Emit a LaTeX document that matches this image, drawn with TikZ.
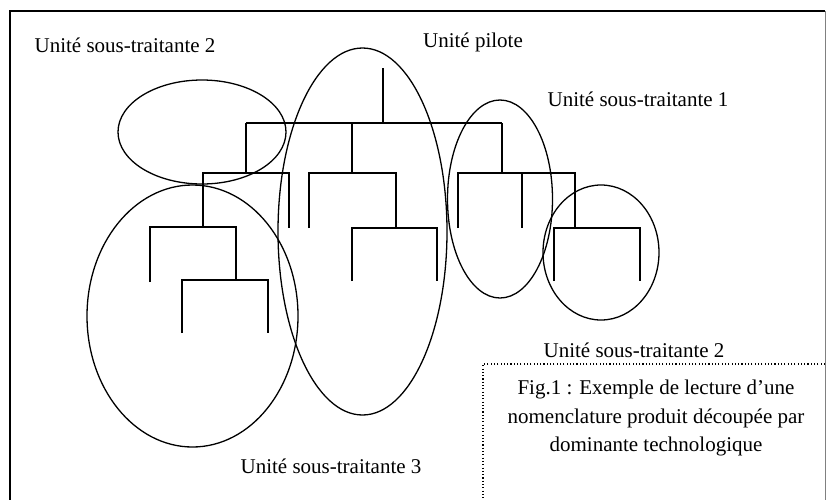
\documentclass[tikz,border=0pt]{standalone}
\usepackage{fontspec}
\setmainfont{Liberation Serif}
\usetikzlibrary{shapes.geometric}
\begin{document}
\begin{tikzpicture}[x=1pt,y=-1pt,
  tree/.style={line width=1.7pt,line cap=butt},
  unit/.style={ellipse,draw,line width=1.3pt,inner sep=0pt},
  lbl/.style={anchor=base,inner sep=0pt,font=\fontsize{21}{25}\selectfont},
  captext/.style={anchor=north,inner sep=0pt,align=center,font=\fontsize{21}{28.5}\selectfont}]
\useasboundingbox (0,0) rectangle (827,499);
% frame
\draw[line width=1.6pt] (10,520) -- (10,11) -- (825,11);
\draw[line width=0.8pt,gray] (825,11) -- (825,520);
% dotted caption box
\draw[line width=1.2pt,dash pattern=on 1.1pt off 2.2pt] (825,364) -- (483,364) -- (483,520);
% tree coordinates
\coordinate (r0) at (383,68);
\coordinate (r1) at (383,123);
\coordinate (h1a) at (246,123); \coordinate (h1m) at (352,123); \coordinate (h1b) at (502,123);
\coordinate (a0) at (246,173); \coordinate (b0) at (352,173); \coordinate (c0) at (502,173);
% group A
\coordinate (aL) at (203,173); \coordinate (aR) at (289,173);
\coordinate (aLd) at (203,227); \coordinate (aRd) at (289,228);
% group B
\coordinate (bL) at (309,173); \coordinate (bR) at (396,173);
\coordinate (bLd) at (309,228); \coordinate (bRd) at (396,228);
% group C
\coordinate (cL) at (458,173); \coordinate (cM) at (522,173); \coordinate (cR) at (575,173);
\coordinate (cLd) at (458,228); \coordinate (cMd) at (522,228); \coordinate (cRd) at (575,228);
% group A1
\coordinate (a1L) at (150,227); \coordinate (a1R) at (236,227);
\coordinate (a1Ld) at (150,282); \coordinate (a1Rd) at (236,280);
% group A2
\coordinate (a2L) at (182,280); \coordinate (a2R) at (268,280);
\coordinate (a2Ld) at (182,333); \coordinate (a2Rd) at (268,333);
% group B1
\coordinate (b1L) at (352,228); \coordinate (b1R) at (437,228);
\coordinate (b1Ld) at (352,281); \coordinate (b1Rd) at (437,281);
% group C1
\coordinate (c1L) at (554,228); \coordinate (c1R) at (640,228);
\coordinate (c1Ld) at (554,281); \coordinate (c1Rd) at (640,281);
% tree lines
\draw[tree] (r0) -- (r1);
\draw[tree] (h1a) -- (h1b);
\draw[tree] (h1a) -- (a0);
\draw[tree] (h1m) -- (b0);
\draw[tree] (h1b) -- (c0);
\draw[tree] (aLd) -- (aL) -- (aR) -- (aRd);
\draw[tree] (bLd) -- (bL) -- (bR) -- (bRd);
\draw[tree] (cLd) -- (cL) -- (cR) -- (cRd);
\draw[tree] (cM) -- (cMd);
\draw[tree] (a1Ld) -- (a1L) -- (a1R) -- (a1Rd);
\draw[tree] (a2Ld) -- (a2L) -- (a2R) -- (a2Rd);
\draw[tree] (b1Ld) -- (b1L) -- (b1R) -- (b1Rd);
\draw[tree] (c1Ld) -- (c1L) -- (c1R) -- (c1Rd);
% ellipses
\node[unit,minimum width=168pt,minimum height=104pt] (e1) at (202,132) {};
\node[unit,minimum width=169pt,minimum height=367pt] (e2) at (362.5,231.5) {};
\node[unit,minimum width=105pt,minimum height=198pt] (e3) at (500,199) {};
\node[unit,minimum width=116pt,minimum height=135pt] (e4) at (601,252.5) {};
\node[unit,minimum width=211pt,minimum height=262pt] (e5) at (192.5,316) {};
% labels
\node[lbl] (t1) at (125,52) {Unité sous-traitante 2};
\node[lbl] (t2) at (473,47) {Unité pilote};
\node[lbl] (t3) at (638,106) {Unité sous-traitante 1};
\node[lbl] (t4) at (634,357) {Unité sous-traitante 2};
\node[lbl] (t5) at (331,473) {Unité sous-traitante 3};
\node[captext] (fig) at (656,380) {Fig.1 : Exemple de lecture d’une\\nomenclature produit découpée par\\dominante technologique};
\end{tikzpicture}
\end{document}
